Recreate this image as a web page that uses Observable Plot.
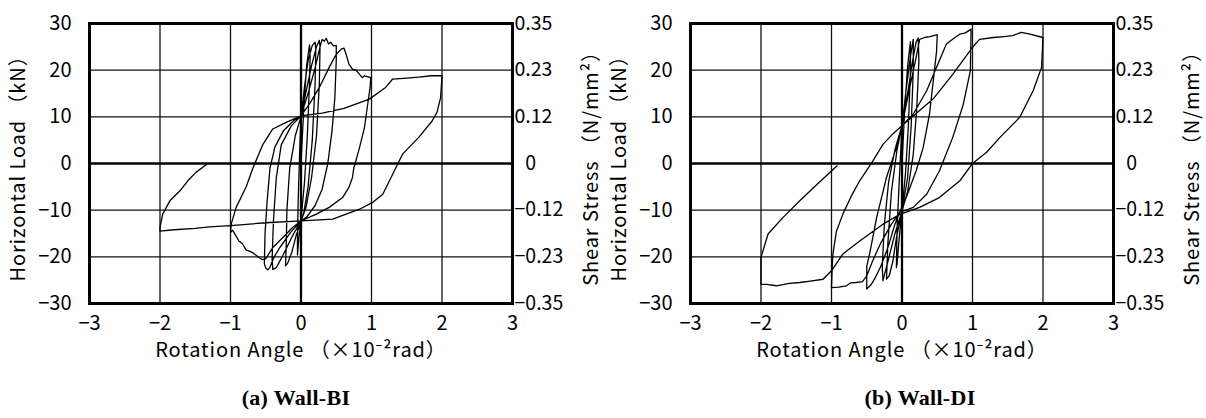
<!DOCTYPE html>
<html><head><meta charset="utf-8">
<script src="https://cdn.jsdelivr.net/npm/d3@7"></script>
<script src="https://cdn.jsdelivr.net/npm/@observablehq/plot@0.6"></script>
<style>
body{margin:0;background:#fff;}
#wrap{position:relative;width:1206px;height:418px;overflow:hidden;}
.panel{position:absolute;top:0;}
.cap{position:absolute;top:386px;font:bold 22px "Liberation Serif","Times New Roman",serif;letter-spacing:0.3px;transform:translateX(-50%);white-space:nowrap;line-height:24px;color:#000;}
g[aria-label="text"] text{letter-spacing:0.9px;}
</style></head><body>
<div id="wrap">
 <div class="panel" id="pa" style="left:0"></div>
 <div class="panel" id="pb" style="left:603px"></div>
 <div class="cap" style="left:296px">(a) Wall-BI</div>
 <div class="cap" style="left:920px">(b) Wall-DI</div>
</div>
<script>
const angleTicks = [-3, -2, -1, 0, 1, 2, 3];
const loadTicks = [-30, -20, -10, 0, 10, 20, 30];
const stressLabels = ["−0.35", "−0.23", "−0.12", "0", "0.12", "0.23", "0.35"];
const xTitle = "Rotation Angle （×10⁻²rad）";
const yTitle = "Horizontal Load （kN）";
const y2Title = "Shear Stress （N/mm²）";

// Wall-BI: [rotation angle (×10^-2 rad), horizontal load (kN)]
const biPoints = [
 [0,0],[0.04,12],[0.08,21],[0.12,25.4],[0.13,23.5],[0.12,17],[0.09,6],[0.05,-4],[0,-12],[-0.03,-16],[-0.05,-19.6],[-0.05,-16.5],[-0.04,-8],[-0.02,2],[0,10],
 [0.05,16.5],[0.1,22],[0.16,25.3],[0.2,26],[0.21,24.5],[0.2,17],[0.16,5],[0.1,-5],[0.04,-10.5],[0,-12.4],[-0.07,-15.5],[-0.13,-19],[-0.19,-21.4],[-0.22,-21.9],[-0.21,-18],[-0.2,-10],[-0.16,-1],[-0.08,6],[0,10.1],
 [0.08,16],[0.15,21],[0.22,25],[0.26,26.4],[0.27,25],[0.26,17],[0.22,6],[0.15,-3],[0.07,-9.5],[0,-12.3],[-0.12,-15.5],[-0.25,-19.5],[-0.35,-22.3],[-0.4,-22.7],[-0.41,-20.5],[-0.39,-12],[-0.35,-3],[-0.28,4],[-0.14,8],[0,10.2],
 [0.1,15],[0.2,20.5],[0.27,25],[0.3,26.6],[0.33,26.2],[0.36,26.8],[0.39,25.6],[0.42,26],[0.46,25.2],[0.5,25.3],[0.5,22],[0.48,14],[0.44,7],[0.38,0],[0.3,-5.5],[0.2,-9],[0.08,-11.5],[0,-12.3],[-0.15,-14.8],[-0.3,-18],[-0.38,-20],[-0.44,-22.2],[-0.47,-22.8],[-0.5,-22.4],[-0.52,-21.5],[-0.51,-15],[-0.48,-8],[-0.44,-1],[-0.37,3.5],[-0.25,7],[-0.1,9.2],[0,10.2],
 [0.13,13],[0.26,16.3],[0.4,20.6],[0.5,23.4],[0.57,24.5],[0.61,24.7],[0.64,23.4],[0.68,21.3],[0.73,20.2],[0.78,20],[0.83,19.1],[0.87,18.4],[0.9,18.8],[0.99,18.4],[0.98,16.3],[0.94,12],[0.9,7.7],[0.83,3.4],[0.75,-0.9],[0.73,-3],[0.68,-5.1],[0.59,-7.3],[0.4,-9.4],[0.21,-10.9],[0,-12.3],
 [-0.12,-13.7],[-0.26,-15.9],[-0.4,-18],[-0.5,-20.4],[-0.55,-20.6],[-0.6,-20.1],[-0.66,-19.4],[-0.7,-19],[-0.78,-18.5],[-0.83,-17.2],[-0.88,-16.6],[-0.93,-15.3],[-0.97,-14.3],[-1,-14.8],[-0.99,-13],[-0.92,-9.4],[-0.78,-5.1],[-0.68,-0.9],[-0.54,4.1],[-0.4,7.4],[-0.21,8.8],[0,10.2],
 [0.3,10.8],[0.61,11.8],[0.97,13.8],[1.2,16.3],[1.3,18.1],[1.5,18.3],[1.67,18.5],[1.85,18.8],[2,18.8],[1.98,14.1],[1.93,11],[1.86,9.1],[1.67,5.6],[1.44,2],[1.3,-2.3],[1.16,-6.6],[1.01,-8.4],[0.83,-9.8],[0.45,-11.9],[0,-12.3],
 [-0.5,-12.7],[-1,-13.3],[-1.3,-13.6],[-1.5,-13.9],[-1.8,-14.2],[-2,-14.5],[-2,-13.7],[-1.96,-10.8],[-1.86,-8],[-1.72,-5.9],[-1.6,-3.6],[-1.49,-1.9],[-1.34,-0.2]
];

// Wall-DI: [rotation angle (×10^-2 rad), horizontal load (kN)]
const diPoints = [
 [0,0],[0.04,12],[0.08,21],[0.12,26.1],[0.12,20],[0.09,8],[0.05,-2],[0,-10],[-0.04,-16],[-0.07,-21.5],[-0.08,-22.3],[-0.07,-14],[-0.04,-4],[0,8.1],
 [0.06,16],[0.12,23],[0.16,26.6],[0.16,20],[0.13,8],[0.08,-3],[0,-10.2],[-0.08,-16],[-0.13,-21],[-0.18,-24],[-0.22,-24.8],[-0.2,-17],[-0.15,-6],[-0.07,3],[0,8.1],
 [0.08,15],[0.15,22],[0.2,26],[0.23,26.9],[0.24,22],[0.21,12],[0.16,2],[0.08,-6],[0,-10.2],[-0.1,-15],[-0.2,-21],[-0.27,-25.1],[-0.28,-22],[-0.25,-13],[-0.19,-4],[-0.1,3],[0,8.1],
 [0.11,16.3],[0.2,22.7],[0.25,26.6],[0.32,27],[0.4,27.2],[0.45,27.4],[0.5,27.6],[0.49,24],[0.46,19.9],[0.39,10.6],[0.3,3.4],[0.2,-1.6],[0.06,-7.3],[-0.03,-10.3],[-0.1,-13],[-0.2,-18],[-0.3,-22],[-0.38,-24.5],[-0.44,-26],[-0.5,-26.9],[-0.5,-22],[-0.46,-19.4],[-0.36,-11.6],[-0.22,-3],[-0.08,3.4],[0,8.1],
 [0.16,10.6],[0.35,15.6],[0.49,20.6],[0.63,25.6],[0.75,27],[0.82,27.7],[0.9,28],[0.98,28.8],[0.97,19.9],[0.87,12.7],[0.72,5.6],[0.53,-1.6],[0.35,-6.6],[0.16,-9.4],[-0.03,-10.5],
 [-0.15,-13],[-0.3,-17],[-0.42,-21],[-0.5,-24.1],[-0.56,-25.3],[-0.65,-25.5],[-0.73,-25.6],[-0.79,-26.2],[-0.9,-26.5],[-1,-26.6],[-0.99,-22],[-0.98,-19.4],[-0.93,-14.5],[-0.84,-10.9],[-0.72,-7],[-0.6,-3.7],[-0.41,0.6],[-0.27,4.1],[-0.12,6.5],[0,8.1],
 [0.2,10.7],[0.44,13.8],[0.72,19.1],[1,24.9],[1.1,26.6],[1.3,27],[1.45,27.2],[1.57,27.4],[1.69,28.1],[1.8,27.8],[2,27],[1.98,20.6],[1.86,15.6],[1.67,9.9],[1.39,5.6],[1.2,2.4],[1,0],[0.82,-3.7],[0.53,-7.3],[0.25,-9.4],[-0.03,-10.9],
 [-0.27,-13],[-0.6,-16.6],[-0.84,-19.4],[-1,-23],[-1.12,-24.8],[-1.3,-25.2],[-1.45,-25.5],[-1.6,-25.7],[-1.78,-26.2],[-1.92,-25.9],[-2,-25.9],[-2,-20.1],[-1.9,-15.1],[-1.69,-11.6],[-1.45,-8],[-1.2,-4.4],[-0.92,-0.5]
];

const FONT = '"Noto Sans CJK JP", "Noto Sans", sans-serif';
const minus = d => d < 0 ? "−" + Math.abs(d) : String(d);

function panel(points, ml, mr) {
  const data = points.map(([x, y]) => ({x, y}));
  const inner = v => v !== 0;
  return Plot.plot({
    width: 603, height: 375,
    marginLeft: ml, marginRight: mr, marginTop: 23, marginBottom: 72,
    style: {fontFamily: FONT, fontSize: "20px", color: "#000", background: "transparent", overflow: "visible"},
    x: {domain: [-3, 3]},
    y: {domain: [-30, 30]},
    marks: [
      Plot.ruleX(angleTicks.filter(d => inner(d) && Math.abs(d) !== 3), {stroke: "#111", strokeWidth: 1.3}),
      Plot.ruleY(loadTicks.filter(d => inner(d) && Math.abs(d) !== 30), {stroke: "#111", strokeWidth: 1.3}),
      Plot.ruleX([0], {stroke: "#000", strokeWidth: 2.3}),
      Plot.ruleY([0], {stroke: "#000", strokeWidth: 2.3}),
      Plot.line(data, {x: "x", y: "y", stroke: "#000", strokeWidth: 1.3, strokeLinejoin: "round"}),
      Plot.frame({stroke: "#000", strokeWidth: 3}),
      Plot.axisX(angleTicks, {anchor: "bottom", tickSize: 0, tickPadding: 12, tickFormat: minus, label: null, fontSize: 20}),
      Plot.axisY(loadTicks, {anchor: "left", tickSize: 0, tickPadding: 18, tickFormat: minus, label: null, fontSize: 20}),
      Plot.axisY(loadTicks, {anchor: "right", tickSize: 0, tickPadding: 2,
        tickFormat: d => { const s = stressLabels[loadTicks.indexOf(d)]; return s === "0" ? "\u20070" : s; },
        label: null, fontSize: 19.5}),
      Plot.text([yTitle], {text: d => d, frameAnchor: "left", textAnchor: "middle", lineAnchor: "middle", dx: -71, rotate: -90, fontSize: 20}),
      Plot.text([y2Title], {text: d => d, frameAnchor: "right", textAnchor: "middle", lineAnchor: "middle", dx: 79, rotate: -90, fontSize: 20}),
      Plot.text([xTitle], {text: d => d, frameAnchor: "bottom", textAnchor: "middle", lineAnchor: "middle", dy: 47, fontSize: 20})
    ]
  });
}

document.getElementById("pa").append(panel(biPoints, 89, 91));
document.getElementById("pb").append(panel(diPoints, 87, 93));
</script>
</body></html>
